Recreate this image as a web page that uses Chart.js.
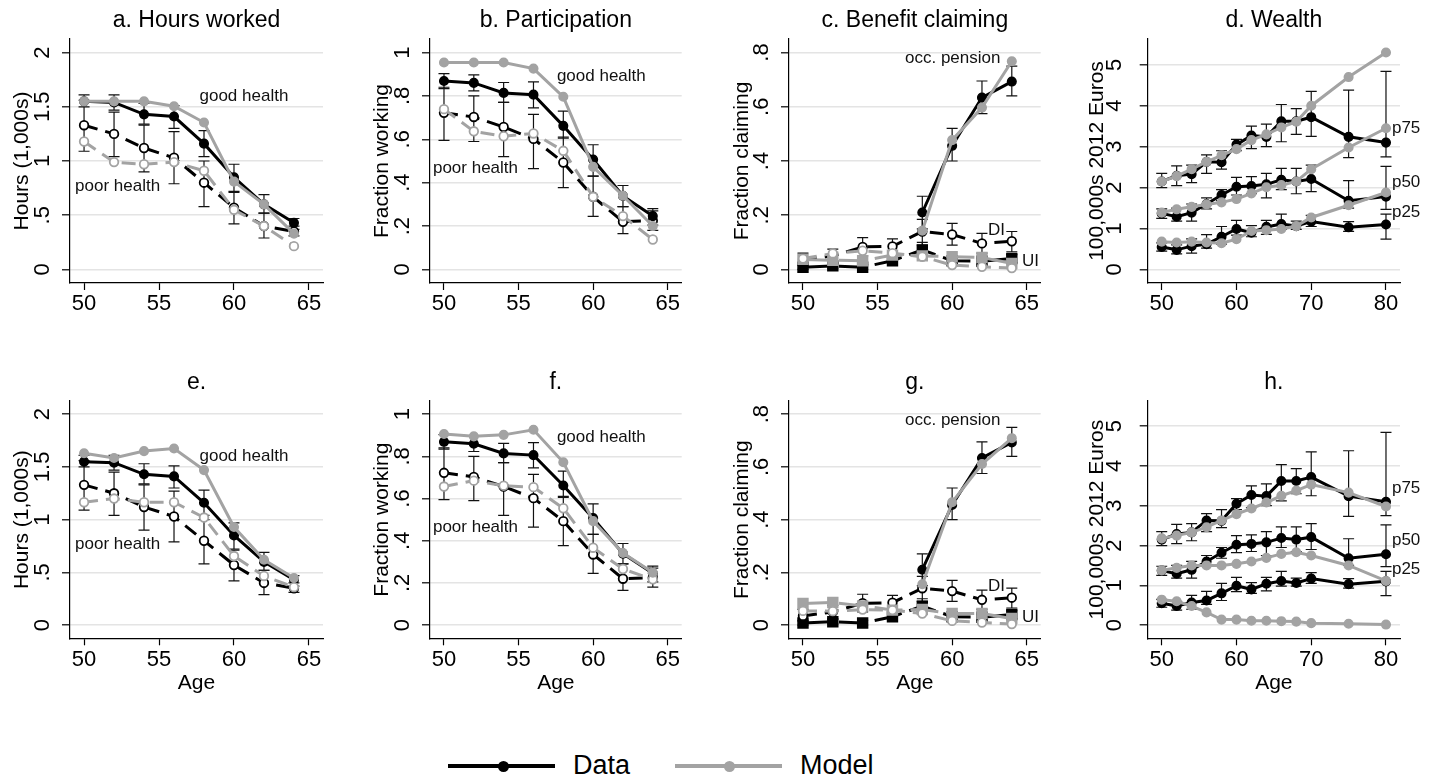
<!DOCTYPE html>
<html>
<head>
<meta charset="utf-8">
<script src="https://cdn.jsdelivr.net/npm/chart.js@4.4.1/dist/chart.umd.min.js"></script>
<style>
  body { margin: 0; background: #fff; width: 1438px; height: 782px; position: relative; overflow: hidden; font-family: "Liberation Sans", Arial, sans-serif; }
  canvas { position: absolute; }
  .lg { position: absolute; height: 3.4px; }
  .dot { position: absolute; width: 11px; height: 11px; border-radius: 50%; }
  .lt { position: absolute; font-size: 27px; line-height: 27px; color: #000; }
</style>
</head>
<body>
<canvas id="pa" width="360" height="320" style="left:0px;top:0px"></canvas>
<canvas id="pb" width="360" height="320" style="left:360px;top:0px"></canvas>
<canvas id="pc" width="360" height="320" style="left:720px;top:0px"></canvas>
<canvas id="pd" width="363" height="320" style="left:1075px;top:0px"></canvas>
<canvas id="pe" width="360" height="340" style="left:0px;top:362px"></canvas>
<canvas id="pf" width="360" height="340" style="left:360px;top:362px"></canvas>
<canvas id="pg" width="360" height="340" style="left:720px;top:362px"></canvas>
<canvas id="ph" width="363" height="340" style="left:1075px;top:362px"></canvas>

<div class="lg" style="left:448px;top:764.3px;width:107px;background:#000"></div>
<div class="dot" style="left:497.5px;top:760.5px;background:#000"></div>
<div class="lt" style="left:573px;top:751.5px">Data</div>
<div class="lg" style="left:675px;top:764.3px;width:107px;background:#a3a3a3"></div>
<div class="dot" style="left:723.5px;top:760.5px;background:#a3a3a3"></div>
<div class="lt" style="left:800px;top:751.5px">Model</div>

<script>
// ages
const ageShort = [50, 52, 54, 56, 58, 60, 62, 64];
const ageLong = [50, 52, 54, 56, 58, 60, 62, 64, 66, 68, 70, 75, 80];

// a/e hours worked (1,000s)
const hoursGoodData = [1.55, 1.54, 1.43, 1.41, 1.16, 0.85, 0.60, 0.43];
const hoursGoodLo = [1.50, 1.47, 1.34, 1.30, 1.04, 0.72, 0.52, 0.37];
const hoursGoodHi = [1.61, 1.61, 1.53, 1.51, 1.28, 0.97, 0.69, 0.47];
const hoursPoorData = [1.33, 1.25, 1.12, 1.03, 0.80, 0.57, 0.40, 0.35];
const hoursPoorLo = [1.09, 1.04, 0.90, 0.79, 0.58, 0.42, 0.29, 0.31];
const hoursPoorHi = [1.56, 1.45, 1.33, 1.27, 1.00, 0.71, 0.52, 0.40];
const hoursGoodModelA = [1.55, 1.55, 1.55, 1.505, 1.355, 0.81, 0.60, 0.33];
const hoursPoorModelA = [1.18, 0.99, 0.97, 0.99, 0.91, 0.55, 0.40, 0.215];
const hoursGoodModelE = [1.63, 1.585, 1.65, 1.675, 1.47, 0.93, 0.62, 0.447];
const hoursPoorModelE = [1.165, 1.2, 1.165, 1.165, 1.02, 0.655, 0.466, 0.36];

// b/f participation
const partGoodData = [0.869, 0.86, 0.814, 0.806, 0.662, 0.507, 0.339, 0.246];
const partGoodLo = [0.834, 0.823, 0.77, 0.745, 0.605, 0.43, 0.29, 0.205];
const partGoodHi = [0.903, 0.897, 0.862, 0.865, 0.73, 0.575, 0.387, 0.28];
const partPoorData = [0.722, 0.703, 0.657, 0.602, 0.493, 0.335, 0.22, 0.225];
const partPoorLo = [0.595, 0.59, 0.52, 0.465, 0.377, 0.245, 0.165, 0.18];
const partPoorHi = [0.84, 0.80, 0.77, 0.715, 0.61, 0.43, 0.29, 0.27];
const partGoodModelB = [0.954, 0.954, 0.954, 0.926, 0.796, 0.473, 0.34, 0.2];
const partPoorModelB = [0.739, 0.637, 0.614, 0.627, 0.547, 0.335, 0.246, 0.138];
const partGoodModelF = [0.906, 0.895, 0.902, 0.926, 0.772, 0.493, 0.342, 0.249];
const partPoorModelF = [0.657, 0.685, 0.661, 0.654, 0.554, 0.367, 0.266, 0.217];

// c/g benefit claiming
const occData = [null, null, null, null, 0.21, 0.456, 0.634, 0.693];
const occLo = [null, null, null, null, 0.15, 0.40, 0.575, 0.64];
const occHi = [null, null, null, null, 0.27, 0.52, 0.695, 0.75];
const diData = [0.035, 0.05, 0.083, 0.085, 0.14, 0.129, 0.096, 0.104];
const diLo = [0.015, 0.025, 0.05, 0.06, 0.09, 0.09, 0.06, 0.065];
const diHi = [0.06, 0.075, 0.117, 0.113, 0.185, 0.17, 0.133, 0.14];
const uiData = [0.008, 0.013, 0.008, 0.032, 0.072, 0.032, 0.03, 0.04];
const uiLo = [0.0, 0.005, 0.0, 0.02, 0.05, 0.02, 0.02, 0.025];
const uiHi = [0.018, 0.022, 0.018, 0.045, 0.1, 0.045, 0.042, 0.055];
const occModelC = [null, null, null, null, 0.143, 0.477, 0.597, 0.768];
const diModelC = [0.04, 0.059, 0.069, 0.06, 0.047, 0.016, 0.01, 0.005];
const uiModelC = [0.037, 0.034, 0.032, 0.053, 0.05, 0.047, 0.044, 0.022];
const occModelG = [null, null, null, null, 0.155, 0.466, 0.611, 0.709];
const diModelG = [0.054, 0.053, 0.059, 0.057, 0.044, 0.016, 0.01, 0.004];
const uiModelG = [0.082, 0.086, 0.073, 0.057, 0.059, 0.044, 0.044, 0.025];

// d/h wealth (100,000s 2012 euros)
const p75Data = [2.15, 2.29, 2.33, 2.63, 2.62, 3.05, 3.27, 3.24, 3.62, 3.62, 3.72, 3.24, 3.1];
const p75Lo = [2.0, 2.05, 2.12, 2.35, 2.45, 2.9, 2.95, 3.0, 3.12, 3.3, 3.25, 2.73, 2.75];
const p75Hi = [2.35, 2.53, 2.55, 2.8, 2.9, 3.18, 3.5, 3.55, 4.03, 3.93, 4.35, 4.38, 4.84];
const p50Data = [1.37, 1.29, 1.39, 1.6, 1.82, 2.02, 2.04, 2.08, 2.19, 2.15, 2.21, 1.68, 1.78];
const p50Lo = [1.25, 1.18, 1.18, 1.48, 1.68, 1.82, 1.85, 1.75, 1.95, 1.85, 1.9, 1.5, 1.47];
const p50Hi = [1.48, 1.5, 1.6, 1.75, 1.95, 2.25, 2.27, 2.35, 2.47, 2.47, 2.55, 2.17, 2.52];
const p25Data = [0.55, 0.48, 0.57, 0.62, 0.8, 0.99, 0.9, 1.04, 1.11, 1.06, 1.17, 1.03, 1.1];
const p25Lo = [0.45, 0.38, 0.4, 0.52, 0.62, 0.84, 0.8, 0.86, 0.98, 0.98, 1.05, 0.93, 0.74];
const p25Hi = [0.65, 0.6, 0.75, 0.85, 1.05, 1.2, 1.07, 1.2, 1.35, 1.18, 1.32, 1.17, 1.35];
const p75ModelD = [2.15, 2.28, 2.45, 2.63, 2.79, 2.94, 3.16, 3.3, 3.47, 3.61, 4.0, 4.7, 5.3];
const p50ModelD = [1.39, 1.47, 1.53, 1.59, 1.64, 1.72, 1.86, 2.01, 2.06, 2.15, 2.45, 2.98, 3.45];
const p25ModelD = [0.68, 0.66, 0.68, 0.66, 0.64, 0.74, 0.94, 0.96, 0.99, 1.06, 1.27, 1.57, 1.88];
const p75ModelH = [2.18, 2.25, 2.33, 2.46, 2.63, 2.79, 2.93, 3.08, 3.25, 3.38, 3.53, 3.33, 2.98];
const p50ModelH = [1.375, 1.44, 1.5, 1.5, 1.5, 1.54, 1.6, 1.69, 1.79, 1.83, 1.75, 1.5, 1.11];
const p25ModelH = [0.64, 0.6, 0.48, 0.32, 0.14, 0.14, 0.11, 0.11, 0.1, 0.09, 0.05, 0.035, 0.015];

// ticks
const ageTicksShort = [50, 55, 60, 65];
const ageTicksLong = [50, 60, 70, 80];
const hoursTicks = [0, 0.5, 1, 1.5, 2];
const hoursTickLabels = ['0', '.5', '1', '1.5', '2'];
const partTicks = [0, 0.2, 0.4, 0.6, 0.8, 1];
const partTickLabels = ['0', '.2', '.4', '.6', '.8', '1'];
const claimTicks = [0, 0.2, 0.4, 0.6, 0.8];
const claimTickLabels = ['0', '.2', '.4', '.6', '.8'];
const wealthTicks = [0, 1, 2, 3, 4, 5];
const wealthTickLabels = ['0', '1', '2', '3', '4', '5'];

const FONT = "'Liberation Sans', Arial, sans-serif";
const BLACK = '#000000';
const GREY = '#a3a3a3';

Chart.defaults.font.family = FONT;
Chart.defaults.color = '#000';

function pts(xs, ys) {
    const out = [];
    xs.forEach((x, i) => { if (ys[i] !== null) out.push({ x: x, y: ys[i] }); });
    return out;
}

function series(xs, ys, color, kind) {
    const ds = {
        data: pts(xs, ys),
        borderColor: color,
        borderWidth: 3,
        pointRadius: 4.3,
        pointBorderWidth: 1.5,
        pointHoverRadius: 4.3,
        pointBackgroundColor: color,
        pointBorderColor: color,
        tension: 0,
        fill: false
    };
    if (kind === 'hollow') {
        ds.borderDash = [14, 8];
        ds.pointBackgroundColor = '#fff';
        ds.pointBorderWidth = 1.8;
    }
    if (kind === 'square') {
        ds.borderDash = [28, 8];
        ds.pointStyle = 'rect';
        ds.pointRadius = 7;
        ds.pointHoverRadius = 7;
    }
    return ds;
}

// caps + whiskers for the data series
const errorBars = {
    id: 'errorBars',
    beforeDatasetsDraw(chart, args, opts) {
        const ctx = chart.ctx;
        const xs = chart.scales.x, ys = chart.scales.y;
        ctx.save();
        ctx.strokeStyle = '#111';
        ctx.lineWidth = 1.2;
        (opts.sets || []).forEach(s => {
            s.x.forEach((xv, i) => {
                if (s.lo[i] === null) return;
                const px = xs.getPixelForValue(xv);
                const p1 = ys.getPixelForValue(s.lo[i]);
                const p2 = ys.getPixelForValue(s.hi[i]);
                ctx.beginPath();
                ctx.moveTo(px, p1); ctx.lineTo(px, p2);
                ctx.moveTo(px - 5.5, p1); ctx.lineTo(px + 5.5, p1);
                ctx.moveTo(px - 5.5, p2); ctx.lineTo(px + 5.5, p2);
                ctx.stroke();
            });
        });
        ctx.restore();
    }
};

// vertical (rotated) y tick labels, stata style
const yLabels = {
    id: 'yLabels',
    afterDraw(chart, args, opts) {
        const ctx = chart.ctx;
        const ys = chart.scales.y;
        ctx.save();
        ctx.font = '22px ' + FONT;
        ctx.fillStyle = '#000';
        ctx.textAlign = 'center';
        ctx.textBaseline = 'middle';
        opts.values.forEach((v, i) => {
            ctx.save();
            ctx.translate(chart.chartArea.left - opts.gap, ys.getPixelForValue(v));
            ctx.rotate(-Math.PI / 2);
            ctx.fillText(opts.labels[i], 0, 0);
            ctx.restore();
        });
        ctx.restore();
    }
};

// text labels inside the plots
const notes = {
    id: 'notes',
    afterDatasetsDraw(chart, args, opts) {
        const ctx = chart.ctx;
        const xs = chart.scales.x, ys = chart.scales.y;
        ctx.save();
        ctx.font = '17px ' + FONT;
        ctx.fillStyle = '#111';
        ctx.textAlign = 'left';
        ctx.textBaseline = 'middle';
        (opts.items || []).forEach(n => {
            ctx.fillText(n.text, xs.getPixelForValue(n.x), ys.getPixelForValue(n.y));
        });
        ctx.restore();
    }
};

function makePanel(p) {
    const bottomRow = !!p.xTitle;
    const canvas = document.getElementById(p.id);
    const W = canvas.width, H = canvas.height;
    const plotBottom = bottomRow ? 276.3 : 283;
    new Chart(canvas, {
        type: 'line',
        data: { datasets: p.datasets },
        options: {
            responsive: false,
            animation: false,
            events: [],
            layout: { padding: { left: 0, right: W - p.plotRight, top: 0, bottom: 0 } },
            plugins: {
                legend: { display: false },
                tooltip: { enabled: false },
                title: {
                    display: true,
                    text: p.title,
                    fullSize: false,
                    color: '#000',
                    font: { family: FONT, size: 23, weight: 'normal' },
                    padding: { top: 7.2, bottom: 4.2 }
                },
                errorBars: { sets: p.errors },
                yLabels: { values: p.yTicks, labels: p.yTickLabels, gap: p.labelGap },
                notes: { items: p.notes }
            },
            scales: {
                x: {
                    type: 'linear',
                    min: p.xMin,
                    max: p.xMax,
                    afterBuildTicks: s => { s.ticks = p.xTicks.map(v => ({ value: v })); },
                    afterFit: s => { s.height = H - plotBottom; },
                    grid: { drawOnChartArea: false, drawTicks: true, tickLength: 7, tickColor: '#000', tickWidth: 1.2 },
                    border: { display: true, color: '#000', width: 1.2 },
                    ticks: { color: '#000', font: { family: FONT, size: 22 }, padding: 1, maxRotation: 0, autoSkip: false },
                    title: {
                        display: bottomRow,
                        text: p.xTitle || '',
                        color: '#000',
                        font: { family: FONT, size: 21 },
                        padding: { top: 0, bottom: 6 }
                    }
                },
                y: {
                    type: 'linear',
                    min: p.yMin,
                    max: p.yMax,
                    afterBuildTicks: s => { s.ticks = p.yTicks.map(v => ({ value: v })); },
                    afterFit: s => { s.width = p.yWidth; },
                    grid: { color: '#e4e4e4', lineWidth: 1.6, drawTicks: true, tickLength: 8, tickColor: '#000', tickWidth: 1.2 },
                    border: { display: true, color: '#000', width: 1.2 },
                    ticks: { display: false },
                    title: {
                        display: true,
                        text: p.yTitle,
                        color: '#000',
                        font: { family: FONT, size: 21 },
                        padding: { top: 9.4, bottom: 0 }
                    }
                }
            }
        },
        plugins: [errorBars, yLabels, notes]
    });
}

const shortX = { xMin: 49.0625, xMax: 65.9375, xTicks: ageTicksShort };
const longX = { xMin: 48.125, xMax: 81.875, xTicks: ageTicksLong };
const hoursY = { yMin: -0.125, yMax: 2.125, yTicks: hoursTicks, yTickLabels: hoursTickLabels, yTitle: 'Hours (1,000s)' };
const partY = { yMin: -0.0625, yMax: 1.0625, yTicks: partTicks, yTickLabels: partTickLabels, yTitle: 'Fraction working' };
const claimY = { yMin: -0.05, yMax: 0.85, yTicks: claimTicks, yTickLabels: claimTickLabels, yTitle: 'Fraction claiming' };
const wealthY = { yMin: -0.33, yMax: 5.63, yTicks: wealthTicks, yTickLabels: wealthTickLabels, yTitle: '100,000s 2012 Euros' };

const healthNotes = [{ text: 'good health', x: 57.7, y: 1.6 }, { text: 'poor health', x: 49.4, y: 0.77 }];
const partNotes = [{ text: 'good health', x: 57.57, y: 0.892 }, { text: 'poor health', x: 49.26, y: 0.465 }];
const claimNotes = [{ text: 'occ. pension', x: 56.84, y: 0.778 }, { text: 'DI', x: 62.4, y: 0.146 }, { text: 'UI', x: 64.68, y: 0.03 }];
const wealthNotes = [{ text: 'p75', x: 80.8, y: 3.44 }, { text: 'p50', x: 80.8, y: 2.12 }, { text: 'p25', x: 80.8, y: 1.4 }];

const hoursErr = [{ x: ageShort, lo: hoursGoodLo, hi: hoursGoodHi }, { x: ageShort, lo: hoursPoorLo, hi: hoursPoorHi }];
const partErr = [{ x: ageShort, lo: partGoodLo, hi: partGoodHi }, { x: ageShort, lo: partPoorLo, hi: partPoorHi }];
const claimErr = [{ x: ageShort, lo: occLo, hi: occHi }, { x: ageShort, lo: diLo, hi: diHi }, { x: ageShort, lo: uiLo, hi: uiHi }];
const wealthErr = [{ x: ageLong, lo: p75Lo, hi: p75Hi }, { x: ageLong, lo: p50Lo, hi: p50Hi }, { x: ageLong, lo: p25Lo, hi: p25Hi }];

function hoursSets(good, poor) {
    return [
        series(ageShort, good, GREY, 'solid'), series(ageShort, poor, GREY, 'hollow'),
        series(ageShort, hoursGoodData, BLACK, 'solid'), series(ageShort, hoursPoorData, BLACK, 'hollow')
    ];
}
function partSets(good, poor) {
    return [
        series(ageShort, good, GREY, 'solid'), series(ageShort, poor, GREY, 'hollow'),
        series(ageShort, partGoodData, BLACK, 'solid'), series(ageShort, partPoorData, BLACK, 'hollow')
    ];
}
function claimSets(occ, di, ui) {
    return [
        series(ageShort, occ, GREY, 'solid'), series(ageShort, di, GREY, 'hollow'), series(ageShort, ui, GREY, 'square'),
        series(ageShort, occData, BLACK, 'solid'), series(ageShort, diData, BLACK, 'hollow'), series(ageShort, uiData, BLACK, 'square')
    ];
}
function wealthSets(m75, m50, m25) {
    return [
        series(ageLong, m75, GREY, 'solid'), series(ageLong, m50, GREY, 'solid'), series(ageLong, m25, GREY, 'solid'),
        series(ageLong, p75Data, BLACK, 'solid'), series(ageLong, p50Data, BLACK, 'solid'), series(ageLong, p25Data, BLACK, 'solid')
    ];
}

const colA = { yWidth: 70, plotRight: 323, labelGap: 27 };
const colB = { yWidth: 70, plotRight: 321.7, labelGap: 27 };
const colC = { yWidth: 69, plotRight: 320.7, labelGap: 27 };
const colD = { yWidth: 72.7, plotRight: 325, labelGap: 32.5 };

makePanel(Object.assign({ id: 'pa', title: 'a. Hours worked', datasets: hoursSets(hoursGoodModelA, hoursPoorModelA), errors: hoursErr, notes: healthNotes }, colA, shortX, hoursY));
makePanel(Object.assign({ id: 'pb', title: 'b. Participation', datasets: partSets(partGoodModelB, partPoorModelB), errors: partErr, notes: partNotes }, colB, shortX, partY));
makePanel(Object.assign({ id: 'pc', title: 'c. Benefit claiming', datasets: claimSets(occModelC, diModelC, uiModelC), errors: claimErr, notes: claimNotes }, colC, shortX, claimY));
makePanel(Object.assign({ id: 'pd', title: 'd. Wealth', datasets: wealthSets(p75ModelD, p50ModelD, p25ModelD), errors: wealthErr, notes: wealthNotes }, colD, longX, wealthY));
makePanel(Object.assign({ id: 'pe', title: 'e.', xTitle: 'Age', datasets: hoursSets(hoursGoodModelE, hoursPoorModelE), errors: hoursErr, notes: healthNotes }, colA, shortX, hoursY));
makePanel(Object.assign({ id: 'pf', title: 'f.', xTitle: 'Age', datasets: partSets(partGoodModelF, partPoorModelF), errors: partErr, notes: partNotes }, colB, shortX, partY));
makePanel(Object.assign({ id: 'pg', title: 'g.', xTitle: 'Age', datasets: claimSets(occModelG, diModelG, uiModelG), errors: claimErr, notes: claimNotes }, colC, shortX, claimY));
makePanel(Object.assign({ id: 'ph', title: 'h.', xTitle: 'Age', datasets: wealthSets(p75ModelH, p50ModelH, p25ModelH), errors: wealthErr, notes: wealthNotes }, colD, longX, wealthY));
</script>
</body>
</html>
